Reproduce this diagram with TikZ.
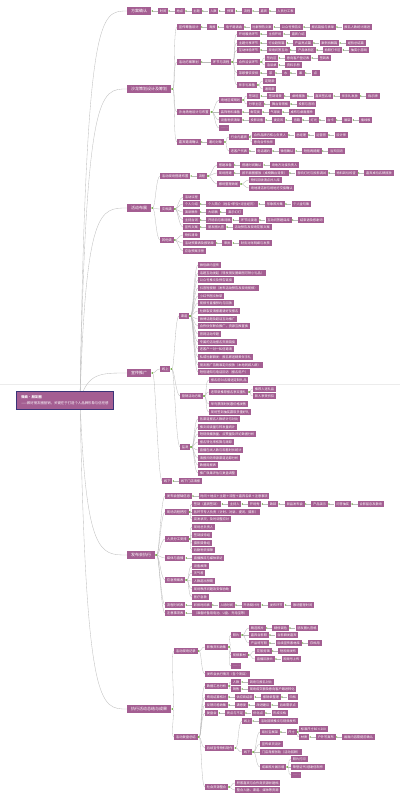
\documentclass[tikz,border=0pt]{standalone}
\usepackage{fontspec}
\newfontfamily\cjk{Noto Sans CJK SC}
\usetikzlibrary{arrows.meta,positioning,backgrounds}
\definecolor{mauve}{RGB}{164,94,146}
\definecolor{rootline}{RGB}{58,52,120}
\definecolor{mark}{RGB}{124,182,84}

\begin{document}
\begin{tikzpicture}[
  x=1pt, y=-1pt,
  node distance=6.5pt,
  root/.style={draw=rootline, line width=0.6pt, fill=mauve, text=white, align=left, anchor=west,
    font=\cjk\fontsize{3.4}{5.5}\selectfont, inner xsep=5pt, inner ysep=4.5pt},
  main/.style={fill=mauve, text=white, anchor=west, font=\cjk\fontsize{4}{5}\selectfont,
    inner xsep=4pt, inner ysep=0pt, minimum height=8pt},
  mid/.style={fill=mauve, text=white, anchor=west, font=\cjk\fontsize{3.3}{4}\selectfont,
    inner xsep=1.75pt, inner ysep=0pt, minimum height=6.5pt},
  sub/.style={fill=mauve, text=white, anchor=west, font=\cjk\fontsize{3.2}{4}\selectfont,
    inner xsep=1.75pt, inner ysep=0pt, minimum height=5.5pt},
  one/.style={sub, minimum width=8pt},
  link/.style={draw=gray!55, line width=0.3pt, {Triangle[length=1.4pt,width=1.6pt,color=mark]}-},
  br/.style={link, out=0, in=180, distance=4pt},
  trunk/.style={draw=gray!50, line width=0.35pt}
]
\useasboundingbox (0,0) rectangle (400,800);

% root
\node[root] (root) at (16,400) {\textbf{微商·朋友圈}\\——做好朋友圈营销，关键在于打造个人品牌形象与信任感};

% ---- 方案确认
\node[main] (fa) at (127,11) {方案确认};
\node[sub, right=of fa] (fa1) {时间};
\node[sub, right=of fa1] (fa2) {地点};
\node[sub, right=of fa2] (fa3) {主题};
\node[sub, right=of fa3] (fa4) {人数};
\node[sub, right=of fa4] (fa5) {预算};
\node[sub, right=of fa5] (fa6) {流程};
\node[sub, right=of fa6] (fa7) {嘉宾};
\node[sub, right=of fa7] (fa8) {人员分工表};
\path (fa) edge[link] (fa1) (fa1) edge[link] (fa2) (fa2) edge[link] (fa3) (fa3) edge[link] (fa4)
  (fa4) edge[link] (fa5) (fa5) edge[link] (fa6) (fa6) edge[link] (fa7) (fa7) edge[link] (fa8);

% ---- 沙龙策划
\node[main] (sl) at (127,89) {沙龙策划设计及筹划};
\node[mid] (sa) at (177,27) {宣传筹备设计};
\node[sub, right=of sa] (sa1) {海报};
\node[sub, right=of sa1] (sa2) {电子邀请函};
\node[sub, right=of sa2] (sa3) {社群预热文案};
\node[sub, right=of sa3] (sa4) {公众号预告文};
\node[sub, right=of sa4] (sa5) {报名链接与表单};
\node[sub, right=of sa5] (sa6) {报名人数统计跟进};
\path (sa) edge[link] (sa1) (sa1) edge[link] (sa2) (sa2) edge[link] (sa3) (sa3) edge[link] (sa4)
  (sa4) edge[link] (sa5) (sa5) edge[link] (sa6);

\node[mid] (sb) at (177,62) {活动方案策划};
\node[mid] (sbh) at (211,62) {环节与流程};
\node[sub] (sb1) at (237,34) {开场暖场环节};
\node[sub, right=of sb1] (sb11) {主持开场};
\node[sub, right=of sb11] (sb12) {嘉宾介绍};
\node[sub] (sb2) at (237,43) {主题分享环节};
\node[sub, right=of sb2] (sb21) {行业趋势篇};
\node[sub, right=of sb21] (sb22) {产品亮点篇};
\node[sub, right=of sb22] (sb23) {案例拆解篇};
\node[sub, right=of sb23] (sb24) {经验总结篇};
\node[sub] (sb3) at (237,50) {互动体验环节};
\node[sub, right=of sb3] (sb31) {现场问答互动};
\node[sub, right=of sb31] (sb32) {产品体验区};
\node[sub, right=of sb32] (sb33) {拍照打卡区};
\node[sub, right=of sb33] (sb34) {抽奖小游戏};
\node[sub] (sb4) at (237,62) {合作洽谈环节};
\node[sub] (sb4a) at (265,58) {签约区};
\node[sub, right=of sb4a] (sb4a1) {意向客户登记表};
\node[sub, right=of sb4a1] (sb4a2) {签到表};
\node[sub] (sb4b) at (265,65) {洽谈桌};
\node[sub, right=of sb4b] (sb4b1) {资料手册};
\node[sub] (sb5) at (237,73) {茶歇餐饮安排};
\node[one, right=of sb5] (sb51) {茶};
\node[one, right=of sb51] (sb52) {水};
\node[one, right=of sb52] (sb53) {果};
\node[one, right=of sb53] (sb54) {点};
\node[sub] (sb6) at (237,85) {伴手礼准备};
\node[sub] (sb6a) at (263,81) {定制款};
\node[sub] (sb6b) at (263,89) {通用款};
\path (sb) edge[link] (sbh)
  (sbh) edge[br] (sb1) (sbh) edge[br] (sb2) (sbh) edge[br] (sb3) (sbh) edge[br] (sb4)
  (sbh) edge[br] (sb5) (sbh) edge[br] (sb6)
  (sb1) edge[link] (sb11) (sb11) edge[link] (sb12)
  (sb2) edge[link] (sb21) (sb21) edge[link] (sb22) (sb22) edge[link] (sb23) (sb23) edge[link] (sb24)
  (sb3) edge[link] (sb31) (sb31) edge[link] (sb32) (sb32) edge[link] (sb33) (sb33) edge[link] (sb34)
  (sb4) edge[br] (sb4a) (sb4) edge[br] (sb4b)
  (sb4a) edge[link] (sb4a1) (sb4a1) edge[link] (sb4a2) (sb4b) edge[link] (sb4b1)
  (sb5) edge[link] (sb51) (sb51) edge[link] (sb52) (sb52) edge[link] (sb53) (sb53) edge[link] (sb54)
  (sb6) edge[br] (sb6a) (sb6) edge[br] (sb6b);

\node[mid] (sc) at (177,112) {沙龙场地设计与布置};
\node[sub] (sc1) at (219,100) {场地区域规划};
\node[sub] (sc1a) at (247,96) {签到区};
\node[sub, right=of sc1a] (sc1a1) {签到背景};
\node[sub, right=of sc1a1] (sc1a2) {桌椅摆放};
\node[sub, right=of sc1a2] (sc1a3) {嘉宾签名墙};
\node[sub, right=of sc1a3] (sc1a4) {伴手礼发放};
\node[sub, right=of sc1a4] (sc1a5) {指示牌};
\node[sub] (sc1b) at (247,104) {分享主区};
\node[sub, right=of sc1b] (sc1b1) {舞台背景板};
\node[sub, right=of sc1b1] (sc1b2) {投影与音响};
\node[sub] (sc2) at (219,112) {装饰物料准备};
\node[sub, right=of sc2] (sc21) {鲜花类};
\node[sub, right=of sc21] (sc22) {气球类};
\node[sub, right=of sc22] (sc23) {桌布与桌面摆件};
\node[sub] (sc3) at (219,120) {设备物资清单};
\node[sub, right=of sc3] (sc31) {投影设备};
\node[sub, right=of sc31] (sc32) {麦克风};
\node[sub, right=of sc32] (sc33) {音箱};
\node[sub, right=of sc33] (sc34) {灯光};
\node[sub, right=of sc34] (sc35) {台卡};
\node[sub, right=of sc35] (sc36) {展架};
\node[sub, right=of sc36] (sc37) {插线板};
\node[sub] (sc4) at (219,128) {……};
\path (sc) edge[br] (sc1) (sc) edge[br] (sc2) (sc) edge[br] (sc3) (sc) edge[br] (sc4)
  (sc1) edge[br] (sc1a) (sc1) edge[br] (sc1b)
  (sc1a) edge[link] (sc1a1) (sc1a1) edge[link] (sc1a2) (sc1a2) edge[link] (sc1a3)
  (sc1a3) edge[link] (sc1a4) (sc1a4) edge[link] (sc1a5)
  (sc1b) edge[link] (sc1b1) (sc1b1) edge[link] (sc1b2)
  (sc2) edge[link] (sc21) (sc21) edge[link] (sc22) (sc22) edge[link] (sc23)
  (sc3) edge[link] (sc31) (sc31) edge[link] (sc32) (sc32) edge[link] (sc33) (sc33) edge[link] (sc34)
  (sc34) edge[link] (sc35) (sc35) edge[link] (sc36) (sc36) edge[link] (sc37);

\node[mid] (sd) at (177,142) {嘉宾邀请确认};
\node[sub, right=of sd] (sdh) {邀约对象};
\node[sub] (sd1) at (229,137) {行业内嘉宾};
\node[sub] (sd1a) at (252,135) {合作品牌方核心负责人};
\node[sub, right=of sd1a] (sd1a1) {总经理};
\node[sub, right=of sd1a1] (sd1a2) {运营官};
\node[sub, right=of sd1a2] (sd1a3) {设计师};
\node[sub] (sd1b) at (252,142) {意向合作伙伴};
\node[sub] (sd2) at (229,151) {老客户代表};
\node[sub, right=of sd2] (sd21) {电话邀约};
\node[sub, right=of sd21] (sd22) {微信确认};
\node[sub, right=of sd22] (sd23) {短信再提醒};
\node[sub, right=of sd23] (sd24) {当天回访};
\path (sd) edge[link] (sdh) (sdh) edge[br] (sd1) (sdh) edge[br] (sd2)
  (sd1) edge[br] (sd1a) (sd1) edge[br] (sd1b)
  (sd1a) edge[link] (sd1a1) (sd1a1) edge[link] (sd1a2) (sd1a2) edge[link] (sd1a3)
  (sd2) edge[link] (sd21) (sd21) edge[link] (sd22) (sd22) edge[link] (sd23) (sd23) edge[link] (sd24);
\path (sl) edge[br] (sa) (sl) edge[br] (sb) (sl) edge[br] (sc) (sl) edge[br] (sd);

% ---- 活动布展
\node[main] (bz) at (127,208) {活动布展};
\node[mid] (be) at (160,176) {活动现场搭建布置};
\node[sub, right=of be] (beh) {流程};
\node[sub] (be1) at (217,165) {搭建准备};
\node[sub, right=of be1] (be11) {搭建时间确认};
\node[sub, right=of be11] (be12) {场地方对接负责人};
\node[sub] (be2) at (217,173) {现场搭建};
\node[sub, right=of be2] (be21) {按平面图摆放（桌椅舞台背景）};
\node[sub, right=of be21] (be22) {音响灯光与投影调试};
\node[sub, right=of be22] (be23) {物料到位检查};
\node[sub, right=of be23] (be24) {嘉宾桌位名牌摆放};
\node[sub] (be3) at (217,184) {撤场整理收尾};
\node[sub] (be3a) at (249,180) {物料回收清点并入库};
\node[sub] (be3b) at (249,188) {场地清洁并与场地方交接确认};
\path (be) edge[link] (beh)
  (beh) edge[br] (be1) (beh) edge[br] (be2) (beh) edge[br] (be3)
  (be1) edge[link] (be11) (be11) edge[link] (be12)
  (be2) edge[link] (be21) (be21) edge[link] (be22) (be22) edge[link] (be23) (be23) edge[link] (be24)
  (be3) edge[br] (be3a) (be3) edge[br] (be3b);

\node[mid] (bf) at (160,209) {文档类};
\node[sub] (bf1) at (183,197) {活动议程};
\node[sub] (bf2) at (183,204) {个人介绍};
\node[sub, right=of bf2] (bf21) {个人简介（姓名+职位+过往经历）};
\node[sub, right=of bf21] (bf22) {形象照片集};
\node[sub, right=of bf22] (bf23) {个人金句集};
\node[sub] (bf3) at (183,212) {演讲稿件};
\node[sub, right=of bf3] (bf31) {大纲稿};
\node[sub, right=of bf31] (bf32) {演示幻灯};
\node[sub] (bf4) at (183,220) {主持台词};
\node[sub, right=of bf4] (bf41) {开场白与串词稿};
\node[sub, right=of bf41] (bf42) {环节过渡语};
\node[sub, right=of bf42] (bf43) {互动问答题目库};
\node[sub, right=of bf43] (bf44) {结束语及感谢词};
\node[sub] (bf5) at (183,227) {宣传文案};
\node[sub, right=of bf5] (bf51) {朋友圈九宫};
\node[sub, right=of bf51] (bf52) {活动预告及现场花絮文案};
\path (bf) edge[br] (bf1) (bf) edge[br] (bf2) (bf) edge[br] (bf3) (bf) edge[br] (bf4) (bf) edge[br] (bf5)
  (bf2) edge[link] (bf21) (bf21) edge[link] (bf22) (bf22) edge[link] (bf23)
  (bf3) edge[link] (bf31) (bf31) edge[link] (bf32)
  (bf4) edge[link] (bf41) (bf41) edge[link] (bf42) (bf42) edge[link] (bf43) (bf43) edge[link] (bf44)
  (bf5) edge[link] (bf51) (bf51) edge[link] (bf52);

\node[mid] (bg) at (160,240) {其他类};
\node[sub] (bg1) at (183,235) {物料清单};
\node[sub] (bg2) at (183,243) {活动预算表及报销单};
\node[sub, right=of bg2] (bg21) {审批};
\node[sub, right=of bg21] (bg22) {财务对账明细与发票};
\node[sub] (bg3) at (183,251) {应急预案手册};
\path (bg) edge[br] (bg1) (bg) edge[br] (bg2) (bg) edge[br] (bg3)
  (bg2) edge[link] (bg21) (bg21) edge[link] (bg22);
\path (bz) edge[br] (be) (bz) edge[br] (bf) (bz) edge[br] (bg);

% ---- 宣传推广
\node[main] (tg) at (127,373) {宣传推广};
\node[mid] (on) at (160,369) {线上};
\node[sub] (qd) at (179,316) {渠道};
\node[sub] (qd1) at (198,265) {微信群内宣传};
\node[sub] (qd2) at (198,273) {话题互动发起（转发朋友圈截图可领小礼品）};
\node[sub] (qd3) at (198,280) {公众号推文及预告链接};
\node[sub] (qd4) at (198,288) {抖音短视频（发布活动预告及现场视频）};
\node[sub] (qd5) at (198,296) {小红书图文种草};
\node[sub] (qd6) at (198,303) {视频号直播预约与回放};
\node[sub] (qd7) at (198,311) {社群裂变海报邀请好友报名};
\node[sub] (qd8) at (198,319) {微博话题及超话互动推广};
\node[sub] (qd9) at (198,326) {合作伙伴联合推广，资源互推置换};
\node[sub] (qd10) at (198,334) {官网活动专题};
\node[sub] (qd11) at (198,342) {专属的活动报名页面链接};
\node[sub] (qd12) at (198,349) {老客户一对一私信邀请};
\node[sub] (qd13) at (198,357) {私域社群群发：报名即送精美伴手礼};
\node[sub] (qd14) at (198,365) {朋友圈广告精准定向投放（本地同城人群）};
\node[sub] (qd15) at (198,372) {短信通知与电话回访（报名用户）};
\path (qd) edge[br] (qd1) (qd) edge[br] (qd2) (qd) edge[br] (qd3) (qd) edge[br] (qd4) (qd) edge[br] (qd5)
  (qd) edge[br] (qd6) (qd) edge[br] (qd7) (qd) edge[br] (qd8) (qd) edge[br] (qd9) (qd) edge[br] (qd10)
  (qd) edge[br] (qd11) (qd) edge[br] (qd12) (qd) edge[br] (qd13) (qd) edge[br] (qd14) (qd) edge[br] (qd15);

\node[sub] (yx) at (180,396) {营销活动方案};
\node[sub] (yx1) at (209,380) {报名前50名赠送定制礼品};
\node[sub] (yx2) at (209,392) {老带新推荐报名享双重礼};
\node[sub] (yx2a) at (253,389) {推荐人送礼品};
\node[sub] (yx2b) at (253,396) {新人享受折扣};
\node[sub] (yx3) at (209,404) {早鸟票限时优惠价格发售};
\node[sub] (yx4) at (209,412) {现场签到抽奖赢取多重好礼};
\path (yx) edge[br] (yx1) (yx) edge[br] (yx2) (yx) edge[br] (yx3) (yx) edge[br] (yx4)
  (yx2) edge[br] (yx2a) (yx2) edge[br] (yx2b);

\node[sub] (jc) at (180,447) {监测};
\node[sub] (jc1) at (198,419) {各渠道报名人数统计与对比};
\node[sub] (jc2) at (198,427) {推文阅读量与转发量统计};
\node[sub] (jc3) at (198,434) {短视频播放量、点赞量及评论数据分析};
\node[sub] (jc4) at (198,442) {报名转化率核算与跟踪};
\node[sub] (jc5) at (198,450) {直播在线人数与观看时长统计};
\node[sub] (jc6) at (198,458) {海报扫码来源渠道追踪分析};
\node[sub] (jc7) at (198,465) {数据周报表};
\node[sub] (jc8) at (198,473) {推广效果评估与复盘调整};
\path (jc) edge[br] (jc1) (jc) edge[br] (jc2) (jc) edge[br] (jc3) (jc) edge[br] (jc4)
  (jc) edge[br] (jc5) (jc) edge[br] (jc6) (jc) edge[br] (jc7) (jc) edge[br] (jc8);

\node[mid] (off) at (162,481) {线下};
\node[sub, right=of off] (off1) {线下门店海报};
\path (on) edge[br] (qd) (on) edge[br] (yx) (on) edge[br] (jc) (off) edge[link] (off1);
\path (tg) edge[br] (on) (tg) edge[br] (off);

% ---- 发布会执行
\node[main] (zx) at (127,555) {发布会执行};
\node[mid] (zx1) at (165,496) {发布会基础信息};
\node[sub, right=of zx1] (zx1a) {时间＋地点＋主题＋流程＋嘉宾名单＋注意事项};
\node[mid] (zx2) at (165,512) {现场流程把控};
\node[sub] (zx2a) at (192,504) {签到（嘉宾签到）};
\node[sub, right=of zx2a] (zx2a1) {主持人};
\node[sub, right=of zx2a1] (zx2a2) {开场秀};
\node[sub, right=of zx2a2] (zx2a3) {致辞};
\node[sub, right=of zx2a3] (zx2a4) {新品发布会};
\node[sub, right=of zx2a4] (zx2a5) {产品演示};
\node[sub, right=of zx2a5] (zx2a6) {问答抽奖};
\node[sub, right=of zx2a6] (zx2a7) {合影留念及散场};
\node[sub] (zx2b) at (192,512) {各环节专人负责（计时、对讲、提词、摄影）};
\node[sub] (zx2c) at (192,519) {突发状况，及时调整应对};
\node[mid] (zx3) at (165,539) {人员分工安排};
\node[sub] (zx3a) at (192,527) {现场总负责人};
\node[sub] (zx3b) at (192,535) {签到接待组};
\node[sub] (zx3c) at (192,543) {摄影摄像组};
\node[sub] (zx3d) at (192,550) {后勤物资保障};
\node[mid] (zx4) at (165,558) {媒体与直播};
\node[sub, right=of zx4] (zx4a) {直播推流与媒体采访};
\node[mid] (zx5) at (165,580) {应急预案表};
\node[sub] (zx5a) at (192,566) {设备故障};
\node[sub] (zx5b) at (192,573) {天气差};
\node[sub] (zx5c) at (192,581) {人数超出预期};
\node[sub] (zx5d) at (192,589) {现场秩序问题及安保协助};
\node[sub] (zx5e) at (192,597) {医疗急救};
\node[mid] (zx6) at (165,605) {流程时间表};
\node[sub, right=of zx6] (zx6a) {彩排时间表};
\node[sub, right=of zx6a] (zx6b) {入场时间};
\node[sub, right=of zx6b] (zx6c) {开场倒计时};
\node[sub, right=of zx6c] (zx6d) {发布环节};
\node[sub, right=of zx6d] (zx6e) {散场整理时间};
\node[mid] (zx7) at (165,613) {注意事项表};
\node[sub, right=of zx7] (zx7a) {（准备好备用电池、U盘、充电宝等）};
\path (zx1) edge[link] (zx1a)
  (zx2) edge[br] (zx2a) (zx2) edge[br] (zx2b) (zx2) edge[br] (zx2c)
  (zx2a) edge[link] (zx2a1) (zx2a1) edge[link] (zx2a2) (zx2a2) edge[link] (zx2a3) (zx2a3) edge[link] (zx2a4)
  (zx2a4) edge[link] (zx2a5) (zx2a5) edge[link] (zx2a6) (zx2a6) edge[link] (zx2a7)
  (zx3) edge[br] (zx3a) (zx3) edge[br] (zx3b) (zx3) edge[br] (zx3c) (zx3) edge[br] (zx3d)
  (zx4) edge[link] (zx4a)
  (zx5) edge[br] (zx5a) (zx5) edge[br] (zx5b) (zx5) edge[br] (zx5c) (zx5) edge[br] (zx5d) (zx5) edge[br] (zx5e)
  (zx6) edge[link] (zx6a) (zx6a) edge[link] (zx6b) (zx6b) edge[link] (zx6c) (zx6c) edge[link] (zx6d) (zx6d) edge[link] (zx6e)
  (zx7) edge[link] (zx7a);
\path (zx) edge[br] (zx1) (zx) edge[br] (zx2) (zx) edge[br] (zx3) (zx) edge[br] (zx4)
  (zx) edge[br] (zx5) (zx) edge[br] (zx6) (zx) edge[br] (zx7);

% ---- 总结与成果
\node[main] (zj) at (127,709) {执行活动总结与成果};
\node[mid] (ja) at (174,651) {活动现场记录};
\node[sub] (jah) at (205,647) {影像资料收集};
\node[sub] (ja1) at (231,635) {照片};
\node[sub] (ja1a) at (249,628) {精选照片};
\node[sub, right=of ja1a] (ja1a1) {精修调色};
\node[sub, right=of ja1a1] (ja1a2) {朋友圈九宫格};
\node[sub] (ja1b) at (249,635) {嘉宾合影照};
\node[sub, right=of ja1b] (ja1b1) {合影群发嘉宾};
\node[sub] (ja1c) at (249,643) {产品特写照};
\node[sub, right=of ja1c] (ja1c1) {后续宣传素材库};
\node[sub, right=of ja1c1] (ja1c2) {存档用};
\node[sub] (ja2) at (231,655) {视频素材};
\node[sub] (ja2a) at (255,651) {花絮剪辑};
\node[sub, right=of ja2a] (ja2a1) {短视频发布};
\node[sub] (ja2b) at (255,659) {直播回放片};
\node[sub, right=of ja2b] (ja2b1) {视频号上传};
\node[sub] (ja3) at (231,666) {……};
\node[sub] (jb) at (205,674) {发布会执行情况（各个项目）};
\path (ja) edge[br] (jah) (ja) edge[br] (jb)
  (jah) edge[br] (ja1) (jah) edge[br] (ja2) (jah) edge[br] (ja3)
  (ja1) edge[br] (ja1a) (ja1) edge[br] (ja1b) (ja1) edge[br] (ja1c)
  (ja1a) edge[link] (ja1a1) (ja1a1) edge[link] (ja1a2) (ja1b) edge[link] (ja1b1)
  (ja1c) edge[link] (ja1c1) (ja1c1) edge[link] (ja1c2)
  (ja2) edge[br] (ja2a) (ja2) edge[br] (ja2b)
  (ja2a) edge[link] (ja2a1) (ja2b) edge[link] (ja2b1);

\node[mid] (jo) at (174,737) {活动复盘总结};
\node[sub] (jk) at (205,686) {数据汇总分析};
\node[sub] (jk1) at (231,682) {人数};
\node[sub, right=of jk1] (jk11) {到场与报名对比};
\node[sub] (jk2) at (231,689) {销售};
\node[sub, right=of jk2] (jk21) {现场成交额及意向客户跟进转化};
\node[sub] (jl) at (205,697) {费用结算核对};
\node[sub, right=of jl] (jl1) {供应商结款};
\node[sub, right=of jl1] (jl2) {报销单整理};
\node[sub, right=of jl2] (jl3) {归档};
\node[sub] (jm) at (205,705) {反馈问卷收集};
\node[sub, right=of jm] (jm1) {满意度};
\node[sub, right=of jm1] (jm2) {改进建议};
\node[sub, right=of jm2] (jm3) {后续需求点};
\node[sub] (jn) at (205,713) {复盘会};
\node[sub, right=of jn] (jn1) {亮点与不足};
\node[sub, right=of jn1] (jn2) {优化点};
\node[sub, right=of jn2] (jn3) {形成文档};
\node[sub] (jp) at (205,748) {后续宣传物料制作};
\node[sub] (jp1) at (242,721) {线上};
\node[sub, right=of jp1] (jp11) {活动回顾推文与视频发布};
\node[sub] (jp2) at (242,752) {线下};
\node[sub] (jp2a) at (260,732) {易拉宝展架};
\node[sub, right=of jp2a] (jp2a1) {尺寸};
\node[sub] (jp2a1a) at (299,729) {标准尺寸80×200};
\node[sub] (jp2a1b) at (299,737) {材质};
\node[sub, right=of jp2a1b] (jp2a1b1) {户外写真布};
\node[sub, right=of jp2a1b1] (jp2a1b2) {画面内容需提前确认};
\node[sub] (jp2b) at (260,744) {宣传单页设计};
\node[sub] (jp2c) at (260,752) {门店海报张贴（活动回顾）};
\node[sub] (jp2d) at (260,767) {成果照片展示墙};
\node[sub] (jp2d1) at (291,759) {照片打印};
\node[sub] (jp2d2) at (291,767) {荣誉证书/感谢信制作};
\node[sub] (jp2d3) at (291,775) {……};
\node[sub] (jq) at (205,787) {社会资源整合};
\node[sub] (jq1) at (235,783) {积累嘉宾与合作商资源并建档};
\node[sub] (jq2) at (235,790) {整合人脉、渠道、媒体等资源};
\path (jo) edge[br] (jk) (jo) edge[br] (jl) (jo) edge[br] (jm) (jo) edge[br] (jn)
  (jo) edge[br] (jp) (jo) edge[br] (jq)
  (jk) edge[br] (jk1) (jk) edge[br] (jk2) (jk1) edge[link] (jk11) (jk2) edge[link] (jk21)
  (jl) edge[link] (jl1) (jl1) edge[link] (jl2) (jl2) edge[link] (jl3)
  (jm) edge[link] (jm1) (jm1) edge[link] (jm2) (jm2) edge[link] (jm3)
  (jn) edge[link] (jn1) (jn1) edge[link] (jn2) (jn2) edge[link] (jn3)
  (jp) edge[br] (jp1) (jp) edge[br] (jp2) (jp1) edge[link] (jp11)
  (jp2) edge[br] (jp2a) (jp2) edge[br] (jp2b) (jp2) edge[br] (jp2c) (jp2) edge[br] (jp2d)
  (jp2a) edge[link] (jp2a1) (jp2a1) edge[br] (jp2a1a) (jp2a1) edge[br] (jp2a1b)
  (jp2a1b) edge[link] (jp2a1b1) (jp2a1b1) edge[link] (jp2a1b2)
  (jp2d) edge[br] (jp2d1) (jp2d) edge[br] (jp2d2) (jp2d) edge[br] (jp2d3)
  (jq) edge[br] (jq1) (jq) edge[br] (jq2);
\path (zj) edge[br] (ja) (zj) edge[br] (jo);

% trunk lines behind the root
\begin{scope}[on background layer]
  \fill[white] (0,0) rectangle (400,800);
  \draw[gray!15, line width=0.4pt] (0,384) -- (400,384);
  \coordinate (hub) at (80,400);
  \draw[trunk] (hub) .. controls (86,11) and (100,11) .. (fa.west);
  \draw[trunk] (hub) .. controls (86,89) and (100,89) .. (sl.west);
  \draw[trunk] (hub) .. controls (86,208) and (100,208) .. (bz.west);
  \draw[trunk] (hub) .. controls (88,373) and (100,373) .. (tg.west);
  \draw[trunk] (hub) .. controls (86,555) and (100,555) .. (zx.west);
  \draw[trunk] (hub) .. controls (86,709) and (100,709) .. (zj.west);
\end{scope}
\end{tikzpicture}
\end{document}
